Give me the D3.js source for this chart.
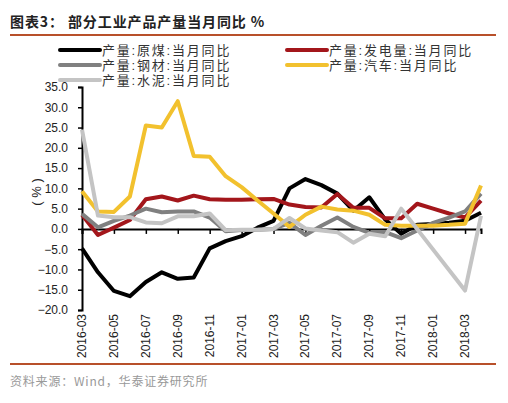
<!DOCTYPE html>
<html>
<head>
<meta charset="utf-8">
<script src="https://cdn.jsdelivr.net/npm/d3@7"></script>
<style>
  body { margin: 0; background: #fff; }
  svg text { font-family: "Liberation Sans", Arial, sans-serif; }
  .cjk { font-family: "Noto Sans CJK SC", sans-serif; }
  .legtext { font-family: "Liberation Sans", "Noto Sans CJK SC", sans-serif; }
</style>
</head>
<body>
<svg id="chart" width="508" height="403"></svg>
<script>
// months on the category axis, 2016-03 .. 2018-04
const months = ['2016-03','2016-04','2016-05','2016-06','2016-07','2016-08','2016-09','2016-10','2016-11','2016-12',
  '2017-01','2017-02','2017-03','2017-04','2017-05','2017-06','2017-07','2017-08','2017-09','2017-10','2017-11','2017-12',
  '2018-01','2018-02','2018-03','2018-04'];
const tickLabels = ['2016-03','2016-05','2016-07','2016-09','2016-11','2017-01','2017-03','2017-05','2017-07','2017-09','2017-11','2018-01','2018-03'];
const yTicks = [-20, -15, -10, -5, 0, 5, 10, 15, 20, 25, 30, 35];

const seriesNames = ['产量:原煤:当月同比', '产量:发电量:当月同比', '产量:钢材:当月同比', '产量:汽车:当月同比', '产量:水泥:当月同比'];
const coal   = [-4.8, -10.7, -15.3, -16.6, -13.1, -10.7, -12.3, -12.0, -4.8, -3.0, -1.8, 0.3, 2.0, 10.0, 12.3, 10.8, 8.7, 4.5, 7.8, 2.3, -1.2, 1.0, 1.2, 1.5, 2.0, 4.0];
const power  = [3.5, -1.5, 0.3, 2.2, 7.3, 8.0, 7.0, 8.2, 7.3, 7.2, 7.2, 7.3, 7.4, 6.0, 5.4, 5.3, 8.6, 5.2, 5.2, 2.6, 2.6, 6.2, 5.0, 3.8, 2.8, 7.0];
const steel  = [3.7, 0.4, 2.0, 3.3, 5.0, 4.1, 4.3, 4.3, 2.8, -0.6, -0.3, -0.2, 0.0, 1.5, -1.5, 0.8, 2.8, 0.5, -1.0, -0.8, -2.3, -0.4, 1.5, 2.8, 4.3, 8.7];
const autos  = [9.3, 4.3, 4.2, 8.0, 25.5, 25.0, 31.5, 18.0, 17.8, 13.0, 10.3, 7.0, 3.8, 0.5, 3.5, 5.5, 4.8, 4.5, 3.5, 1.0, 0.8, 0.8, 0.8, 1.0, 1.3, 10.7];
const cement = [24.5, 3.3, 2.9, 2.9, 1.6, 1.4, 3.1, 3.1, 3.8, -0.3, -0.2, -0.2, 0.0, 2.7, 0.1, -0.4, -0.8, -3.4, -1.2, -1.8, 5.0, null, null, null, -15.2, 3.2];
const seriesColors = ['#000000', '#a3161b', '#808080', '#f2c12e', '#c4c4c4'];

const svg = d3.select('#chart');
const plot = {left: 82, right: 481, top: 87, bottom: 310};

const x = d3.scalePoint().domain(months).range([plot.left, plot.right]);
const y = d3.scaleLinear().domain([-20, 35]).range([plot.bottom, plot.top]);

// title + rules
svg.append('text').attr('class', 'cjk')
    .attr('x', 10).attr('y', 27)
    .attr('font-size', 14).attr('font-weight', 'bold').attr('fill', '#222')
    .attr('letter-spacing', 0.9)
    .text('图表3：  部分工业产品产量当月同比 %');
svg.append('line').attr('x1', 10).attr('x2', 496).attr('y1', 35).attr('y2', 35)
    .attr('stroke', '#b8502a').attr('stroke-width', 2);
svg.append('line').attr('x1', 10).attr('x2', 496).attr('y1', 364).attr('y2', 364)
    .attr('stroke', '#b8502a').attr('stroke-width', 2);
svg.append('text').attr('class', 'cjk')
    .attr('x', 10).attr('y', 386)
    .attr('font-size', 12).attr('fill', '#999')
    .attr('letter-spacing', 0.8)
    .text('资料来源：Wind，华泰证券研究所');

// y axis
const yAxis = svg.append('g')
    .attr('transform', `translate(${plot.left},0)`)
    .call(d3.axisLeft(y).tickValues(yTicks).tickFormat(d3.format('.1f')).tickSize(4).tickPadding(10));
yAxis.select('.domain').attr('stroke', '#000').attr('stroke-width', 2);
yAxis.selectAll('.tick line').attr('stroke', '#000').attr('stroke-width', 1.5);
yAxis.selectAll('.tick text').attr('font-size', 12).attr('fill', '#222')
    .attr('font-family', '"Liberation Sans", Arial, sans-serif');

svg.append('text')
    .attr('transform', 'translate(38, 192) rotate(-90)')
    .attr('text-anchor', 'middle').attr('dominant-baseline', 'middle')
    .attr('font-size', 13).attr('fill', '#222')
    .text('( % )');

// x axis at zero
const xAxis = svg.append('g')
    .attr('transform', `translate(0,${y(0)})`)
    .call(d3.axisBottom(x).tickValues(tickLabels).tickSize(5).tickFormat(''));
xAxis.select('.domain').attr('stroke', '#000').attr('stroke-width', 2);
xAxis.selectAll('.tick line').attr('stroke', '#000').attr('stroke-width', 1.5);

svg.append('g').selectAll('text')
    .data(tickLabels)
    .enter().append('text')
        .attr('transform', d => `translate(${x(d) + 4}, ${plot.bottom + 4}) rotate(-90)`)
        .attr('text-anchor', 'end')
        .attr('font-size', 12).attr('fill', '#222')
        .text(d => d);

// series lines
const allSeries = [coal, power, steel, autos, cement];
const line = d3.line()
    .x(d => x(d.m))
    .y(d => y(d.v));

svg.append('g').selectAll('path')
    .data(allSeries)
    .enter().append('path')
        .attr('fill', 'none')
        .attr('stroke', (d, i) => seriesColors[i])
        .attr('stroke-width', 4)
        .attr('stroke-linejoin', 'round')
        .attr('d', vals => line(vals.map((v, j) => ({m: months[j], v: v})).filter(p => p.v !== null)));

// legend
const legendPos = [[60, 50], [287, 50], [60, 65], [287, 65], [60, 80]];
const legend = svg.selectAll('.legend')
    .data(seriesNames)
    .enter().append('g')
        .attr('class', 'legend')
        .attr('transform', (d, i) => `translate(${legendPos[i][0]}, ${legendPos[i][1]})`);
legend.append('line')
    .attr('x1', 0).attr('x2', 40).attr('y1', 0).attr('y2', 0)
    .attr('stroke', (d, i) => seriesColors[i]).attr('stroke-width', 4)
    .attr('stroke-linecap', 'round');
legend.append('text').attr('class', 'legtext')
    .attr('x', 42).attr('y', 0).attr('dy', '0.35em')
    .attr('font-size', 13).attr('fill', '#333')
    .attr('letter-spacing', 1.8)
    .text(d => d);
</script>
</body>
</html>
